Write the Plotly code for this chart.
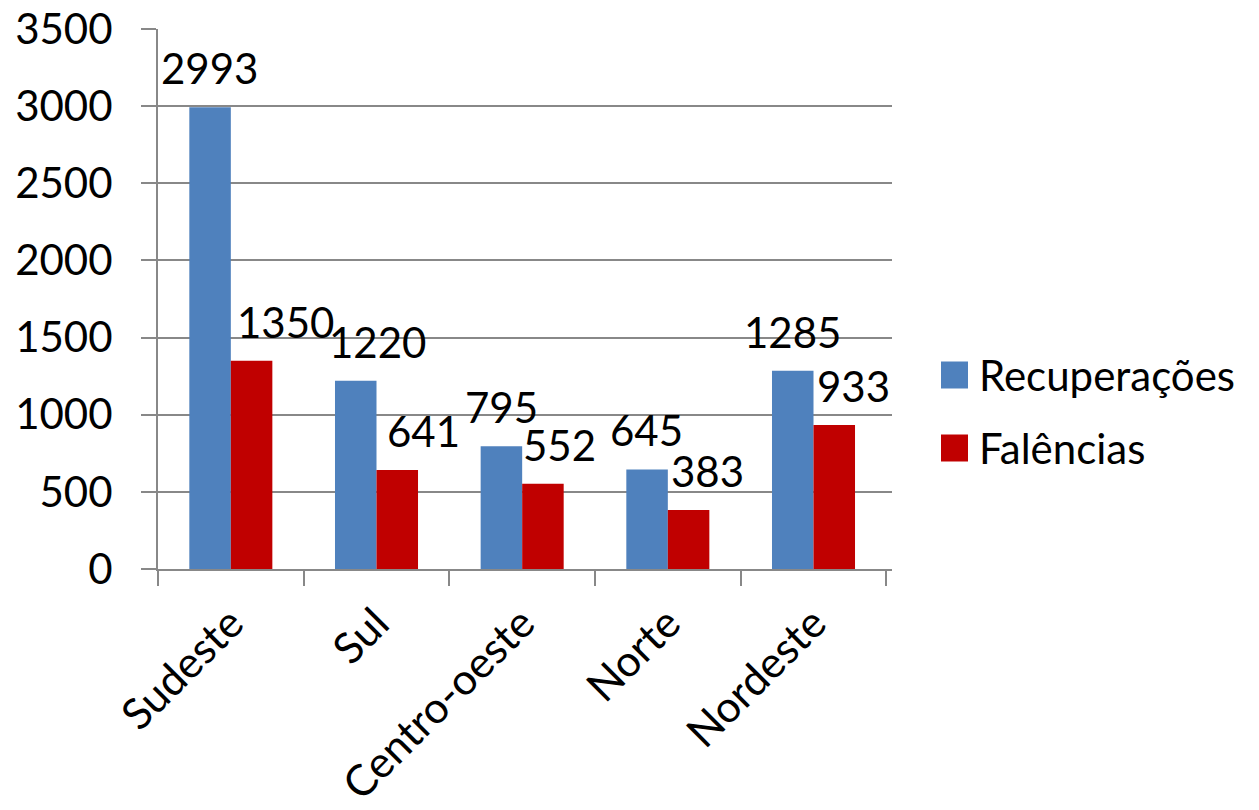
import plotly.graph_objects as go

regions = ["Sudeste", "Sul", "Centro-oeste", "Norte", "Nordeste"]
recuperacoes = [2993, 1220, 795, 645, 1285]
falencias = [1350, 641, 552, 383, 933]
y_ticks = [0, 500, 1000, 1500, 2000, 2500, 3000, 3500]
series_names = ["Recuperações", "Falências"]

BLUE = "#4F81BD"
RED = "#C00000"
GRID = "#888888"
FONT = "Lato"
FS = 42

# label style offsets (pixels) mimicking the original's label placement
blue_dx = [0, 22, 0, 0, 0]
red_dx = [34, 26, 16, 19, 19]

fig = go.Figure()
fig.add_trace(go.Bar(name=series_names[0], x=regions, y=recuperacoes,
                     marker=dict(color=BLUE, line=dict(width=0)), showlegend=False))
fig.add_trace(go.Bar(name=series_names[1], x=regions, y=falencias,
                     marker=dict(color=RED, line=dict(width=0)), showlegend=False))

annotations = []
for series, base, dxs in ((recuperacoes, -21, blue_dx), (falencias, 21, red_dx)):
    for i, v in enumerate(series):
        annotations.append(dict(
            x=i, y=v, xref="x", yref="y", text=str(v), showarrow=False,
            xshift=base + dxs[i], yshift=12,
            yanchor="bottom", font=dict(family=FONT, size=FS, color="black")))

# manual legend (larger swatches like the original)
PW, PH = 734, 540
shapes = []
legend_x = (941 - 158) / PW
legend_y = [(569 - 375) / PH, (569 - 448) / PH]
for name, color, ly in zip(series_names, [BLUE, RED], legend_y):
    shapes.append(dict(type="rect", xref="paper", yref="paper",
                       x0=legend_x, x1=legend_x + 27 / PW,
                       y0=ly - 13.5 / PH, y1=ly + 13.5 / PH,
                       fillcolor=color, line=dict(width=0)))
    annotations.append(dict(x=legend_x + 36 / PW, y=ly, xref="paper", yref="paper",
                            text=name, showarrow=False, xanchor="left", yanchor="middle",
                            font=dict(family=FONT, size=FS, color="black")))

fig.update_layout(
    width=1259, height=810,
    paper_bgcolor="white", plot_bgcolor="white",
    margin=dict(l=158, r=367, t=29, b=241, autoexpand=False),
    barmode="group", bargap=0.43, bargroupgap=0,
    font=dict(family=FONT, size=FS, color="black"),
    showlegend=False,
    annotations=annotations,
    shapes=shapes,
)
fig.update_xaxes(
    type="category", tickangle=-45, showgrid=False, automargin=False,
    showline=True, linecolor=GRID, linewidth=2,
    ticks="outside", ticklen=15, tickcolor=GRID, tickwidth=2,
    tickson="boundaries", tickfont=dict(family=FONT, size=43),
    ticklabelstandoff=10, ticklabeloverflow="allow",
)
fig.update_yaxes(
    range=[0, 3500], tickvals=y_ticks, showgrid=True, gridcolor=GRID, gridwidth=1.5,
    showline=True, linecolor=GRID, linewidth=2, zeroline=False, automargin=False,
    ticks="outside", ticklen=15, tickcolor=GRID, tickwidth=2,
    tickfont=dict(family=FONT, size=FS), ticklabelstandoff=20,
    ticklabeloverflow="allow",
)

fig.write_html("out.html", config={"displayModeBar": False},
               post_script="document.body.style.margin='0';")
